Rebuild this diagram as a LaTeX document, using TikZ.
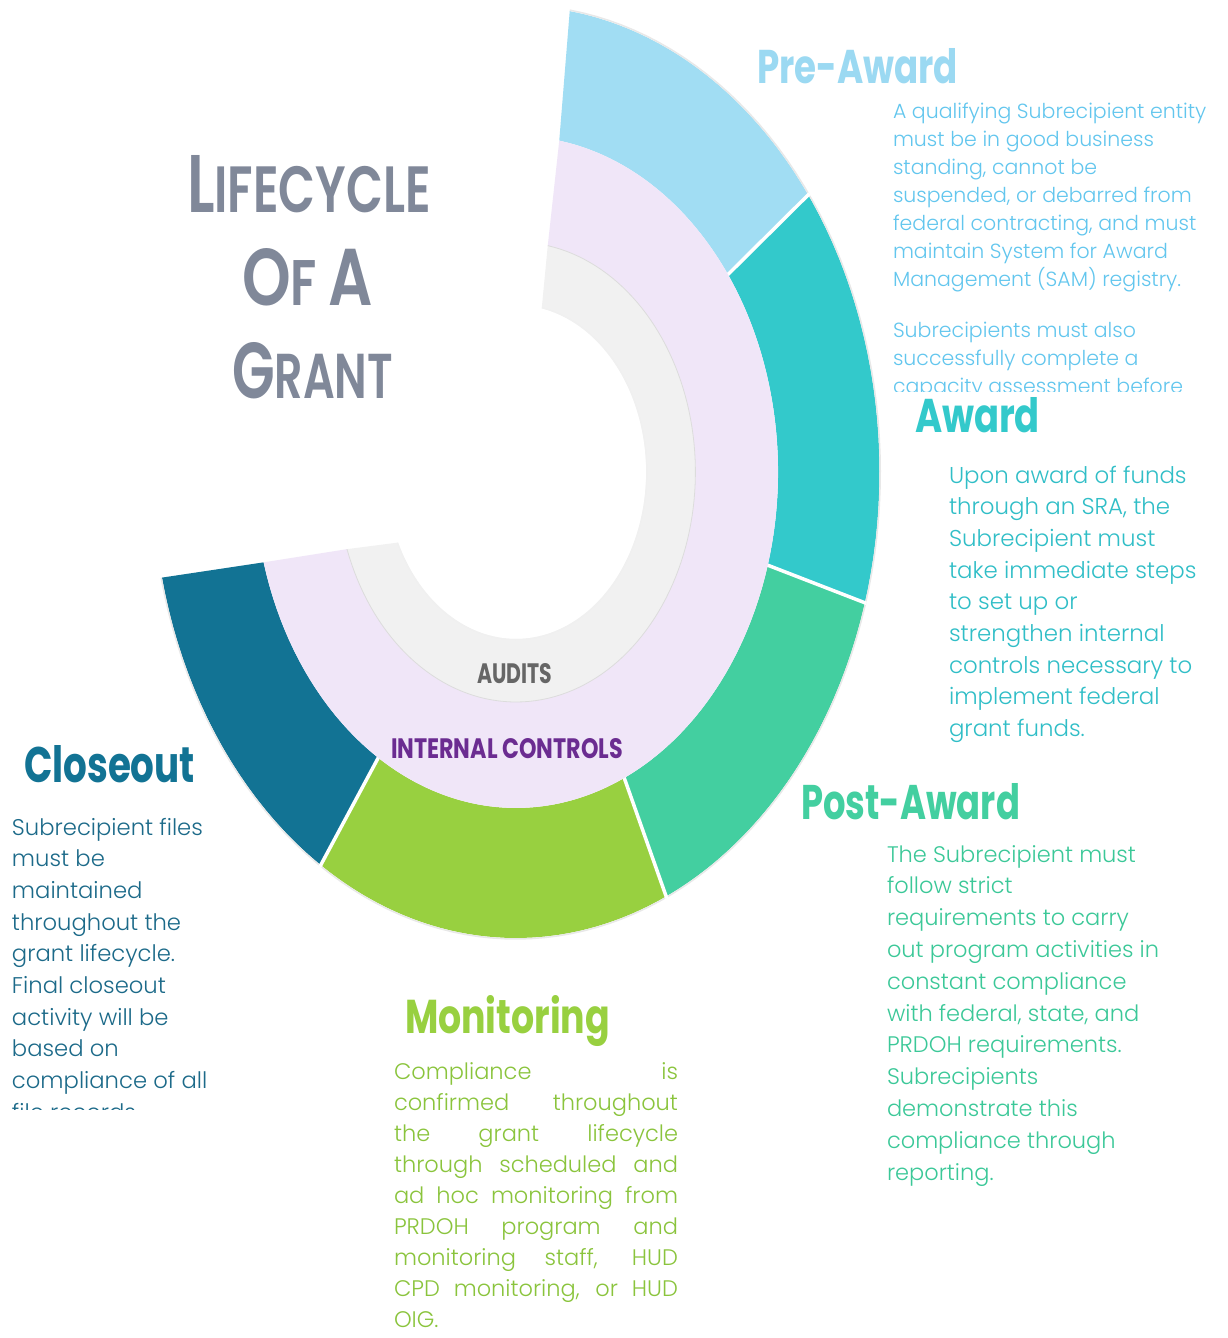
\documentclass[tikz,border=0pt]{standalone}
\usepackage{fontspec}
\setmainfont{Poppins}
\newfontfamily\bodyfont{Poppins Light}
\newfontfamily\titlefont{Poppins SemiBold}
\usepackage{graphicx}
\definecolor{preC}{HTML}{A1DDF3}
\definecolor{preH}{HTML}{9BD9F2}
\definecolor{preB}{HTML}{62C6EE}
\definecolor{awC}{HTML}{33C9CB}
\definecolor{awB}{HTML}{30BEC7}
\definecolor{postC}{HTML}{43CFA0}
\definecolor{postB}{HTML}{3BC898}
\definecolor{monC}{HTML}{98D040}
\definecolor{monB}{HTML}{8AC43C}
\definecolor{closeC}{HTML}{127394}
\definecolor{closeB}{HTML}{1C6A89}
\definecolor{lavC}{HTML}{F0E6F8}
\definecolor{grayC}{HTML}{F1F1F1}
\definecolor{grayL}{HTML}{DCDCDC}
\definecolor{titleC}{HTML}{808899}
\definecolor{auditC}{HTML}{666666}
\definecolor{icC}{HTML}{6B2C91}
\tikzset{
  lbl/.style={anchor=base west, inner sep=0pt, outer sep=0pt},
  sep/.style={white, line width=3.5pt},
}
\newcommand\hd[3]{\resizebox{#1pt}{#2pt}{\bfseries #3}}
\begin{document}
\begin{tikzpicture}[x=1pt,y=-1pt]
\useasboundingbox (0,0) rectangle (1228,1338);
\fill[white] (0,0) rectangle (1228,1338);

\begin{scope}[shift={(516,472)},x=0.78pt,y=1pt]
  % outer segments
  \fill[preC] plot[domain=81.5:36.5,samples=40] (\x:466) -- plot[domain=36:80.5,samples=40] (\x:336) -- cycle;
  \fill[awC] plot[domain=36.5:-16.3,samples=40] (\x:466) -- plot[domain=-16.1:36,samples=40] (\x:336) -- cycle;
  \fill[postC] plot[domain=-16.3:-65.6,samples=40] (\x:466) -- plot[domain=-65.6:-16.1,samples=40] (\x:336) -- cycle;
  \fill[monC] plot[domain=-65.6:-122.5,samples=40] (\x:466) -- plot[domain=-121.7:-65.6,samples=40] (\x:336) -- cycle;
  \fill[closeC] plot[domain=-122.5:-166.9,samples=40] (\x:466) -- plot[domain=-164.4:-121.7,samples=40] (\x:336) -- cycle;
  \draw[black!9, line width=1.5pt] plot[domain=81.5:-166.9,samples=120] (\x:467);
  % separators
  \draw[sep] (36.5:468) -- (36:334);
  \draw[sep] (-16.3:468) -- (-16.1:334);
  \draw[sep] (-65.6:468) -- (-65.6:334);
  \draw[sep] (-122.5:468) -- (-121.7:334);
  % internal controls ring
  \fill[lavC] plot[domain=80.5:-164.4,samples=120] (\x:336) -- plot[domain=-160.4:79.8,samples=120] (\x:230) -- cycle;
  % audits ring
  \fill[grayC] plot[domain=79.8:-160.4,samples=120] (\x:230) -- plot[domain=-155:78.6,samples=120] (\x:167) -- cycle;
  \draw[grayL, line width=0.8pt] plot[domain=79.8:-160.4,samples=120] (\x:230);
  \draw[black!6, line width=1pt] plot[domain=78.6:-155,samples=120] (\x:167.5);
\end{scope}

% title
\node[lbl, text=titleC] (t1) at (187,212) {\resizebox{244pt}{57pt}{\titlefont L\fontsize{8}{8}\selectfont IFECYCLE}};
\node[lbl, text=titleC] (t2) at (242,305) {\resizebox{131pt}{57pt}{\titlefont O\fontsize{8}{8}\selectfont F \normalsize A}};
\node[lbl, text=titleC] (t3) at (232,398) {\resizebox{161pt}{56pt}{\titlefont G\fontsize{8}{8}\selectfont RANT}};

% ring labels
\node[lbl, text=auditC] (aud) at (477,683) {\hd{75}{20}{AUDITS}};
\node[lbl, text=icC] (ic) at (391,758) {\hd{232}{20}{INTERNAL CONTROLS}};

% headings
\node[lbl, text=preH] (preT) at (757,83) {\hd{201}{35}{Pre-Award}};
\node[lbl, text=awC] (awT) at (915,432) {\hd{125}{35}{Award}};
\node[lbl, text=postC] (postT) at (801,819) {\hd{219}{36}{Post-Award}};
\node[lbl, text=monC] (monT) at (405,1033) {\hd{205}{38}{Monitoring}};
\node[lbl, text=closeC] (closeT) at (24,782) {\hd{171}{37}{Closeout}};

% body texts
\begin{scope}
\clip (880,90) rectangle (1228,391);
\node[lbl, text=preB] (preBody) at (893,118) {\parbox[t]{340pt}{\raggedright\bodyfont\fontsize{20.5}{28}\selectfont
A qualifying Subrecipient entity\\
must be in good business\\
standing, cannot be\\
suspended, or debarred from\\
federal contracting, and must\\
maintain System for Award\\
Management (SAM) registry.\\[23pt]
Subrecipients must also\\
successfully complete a\\
capacity assessment before}};
\end{scope}

\node[lbl, text=awB] (awBody) at (949,483) {\parbox[t]{280pt}{\raggedright\bodyfont\fontsize{22.9}{31.7}\selectfont
Upon award of funds\\
through an SRA, the\\
Subrecipient must\\
take immediate steps\\
to set up or\\
strengthen internal\\
controls necessary to\\
implement federal\\
grant funds.}};

\node[lbl, text=postB] (postBody) at (887,862) {\parbox[t]{340pt}{\raggedright\bodyfont\fontsize{22.5}{31.8}\selectfont
The Subrecipient must\\
follow strict\\
requirements to carry\\
out program activities in\\
constant compliance\\
with federal, state, and\\
PRDOH requirements.\\
Subrecipients\\
demonstrate this\\
compliance through\\
reporting.}};

\node[lbl, text=monB] (monBody) at (394,1079) {\parbox[t]{284pt}{\bodyfont\fontsize{22.5}{31.0}\selectfont
\makebox[284pt][s]{Compliance is}\\
\makebox[284pt][s]{confirmed throughout}\\
\makebox[284pt][s]{the grant lifecycle}\\
\makebox[284pt][s]{through scheduled and}\\
\makebox[284pt][s]{ad hoc monitoring from}\\
\makebox[284pt][s]{PRDOH program and}\\
\makebox[284pt][s]{monitoring staff, HUD}\\
\makebox[284pt][s]{CPD monitoring, or HUD}\\
OIG.}};

\begin{scope}
\clip (0,800) rectangle (260,1109);
\node[lbl, text=closeB] (closeBody) at (12,835) {\parbox[t]{260pt}{\raggedright\bodyfont\fontsize{22.7}{31.7}\selectfont
Subrecipient files\\
must be\\
maintained\\
throughout the\\
grant lifecycle.\\
Final closeout\\
activity will be\\
based on\\
compliance of all\\
file records.}};
\end{scope}
\end{tikzpicture}
\end{document}
